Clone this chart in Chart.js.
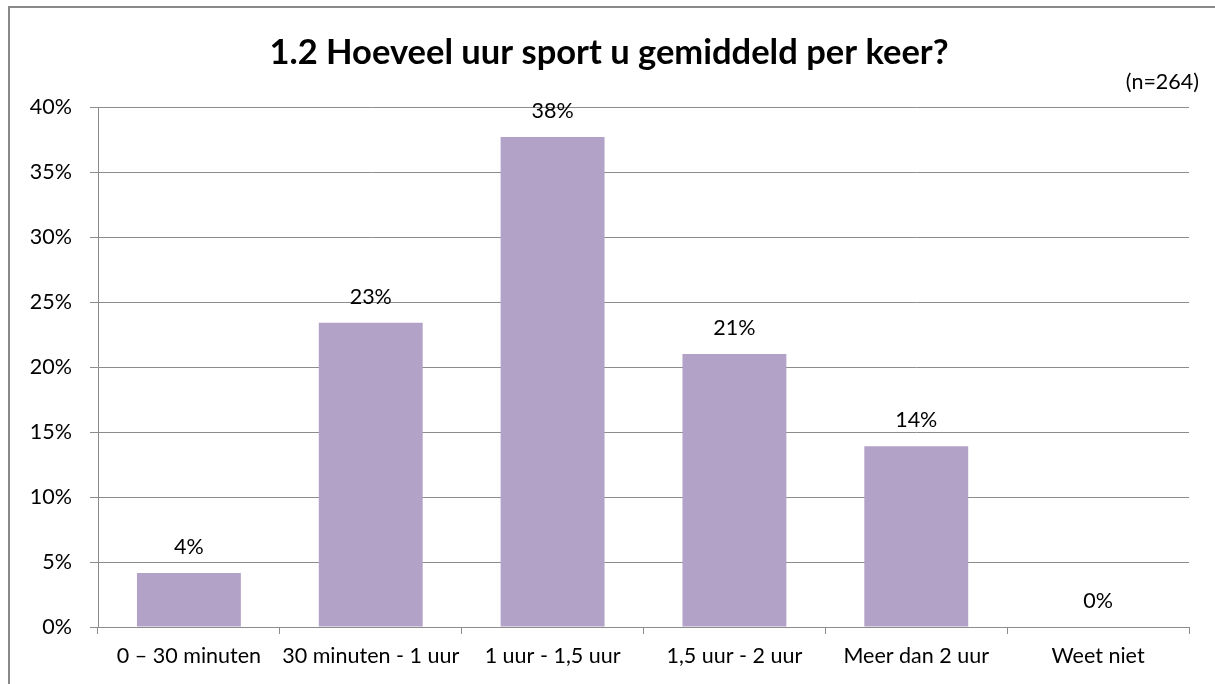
<!DOCTYPE html>
<html>
<head>
<meta charset="utf-8">
<script src="https://cdn.jsdelivr.net/npm/chart.js@4/dist/chart.umd.min.js"></script>
<style>
    html, body { margin: 0; padding: 0; background: #fff; }
    #wrap { position: relative; width: 1215px; height: 684px; overflow: hidden; }
    #frame { position: absolute; left: 8px; top: 6px; width: 1300px; height: 800px; border: 2px solid #898989; box-sizing: border-box; }
    canvas { position: absolute; left: 0; top: 0; }
</style>
</head>
<body>
<div id="wrap">
    <div id="frame"></div>
    <canvas id="chart" width="1215" height="684"></canvas>
</div>
<script>
// chart data
const categories = ['0 \u2013 30 minuten', '30 minuten - 1 uur', '1 uur - 1,5 uur', '1,5 uur - 2 uur', 'Meer dan 2 uur', 'Weet niet'];
const percentages = [4.15, 23.4, 37.7, 21.0, 13.9, 0];
const yTicks = [0, 5, 10, 15, 20, 25, 30, 35, 40];
const titleText = '1.2 Hoeveel uur sport u gemiddeld per keer?';
const sampleText = '(n=264)';

const fontFamily = 'Lato, "Open Sans", sans-serif';
const gridColor = '#8c8c8c';

// draws the title, the n-label and the value labels above the bars
const textPlugin = {
    id: 'textPlugin',
    afterDraw: function(chart) {
        const ctx = chart.ctx;
        ctx.save();
        ctx.fillStyle = '#000';
        ctx.font = 'bold 34.5px ' + fontFamily;
        ctx.textAlign = 'center';
        ctx.textBaseline = 'alphabetic';
        ctx.fillText(titleText, 609, 64);

        ctx.font = '21.5px ' + fontFamily;
        ctx.textAlign = 'right';
        ctx.fillText(sampleText, 1199, 89);

        const meta = chart.getDatasetMeta(0);
        ctx.textAlign = 'center';
        ctx.textBaseline = 'middle';
        meta.data.forEach(function(bar, i) {
            ctx.fillText(Math.round(percentages[i]) + '%', bar.x, bar.y - 26);
        });
        ctx.restore();
    }
};

const ctx = document.getElementById('chart').getContext('2d');
new Chart(ctx, {
    type: 'bar',
    data: {
        labels: categories,
        datasets: [{
            data: percentages,
            backgroundColor: '#b3a2c7',
            borderWidth: 0,
            categoryPercentage: 1 / 1.75,
            barPercentage: 1
        }]
    },
    options: {
        responsive: false,
        animation: false,
        events: [],
        layout: { padding: { top: 107, right: 26, left: 0, bottom: 0 } },
        plugins: {
            legend: { display: false },
            title: { display: false },
            tooltip: { enabled: false }
        },
        scales: {
            x: {
                grid: {
                    offset: true,
                    drawOnChartArea: false,
                    drawTicks: true,
                    tickLength: 7,
                    color: gridColor
                },
                border: { color: gridColor, width: 1 },
                ticks: {
                    color: '#000',
                    font: { family: fontFamily, size: 21.5 },
                    padding: 9,
                    maxRotation: 0,
                    autoSkip: false
                },
                afterFit: function(scale) { scale.height = 57; }
            },
            y: {
                min: 0,
                max: 40,
                afterBuildTicks: function(scale) {
                    scale.ticks = yTicks.map(function(v) { return { value: v }; });
                },
                grid: {
                    color: gridColor,
                    tickLength: 8,
                    drawTicks: true
                },
                border: { color: gridColor, width: 1 },
                ticks: {
                    color: '#000',
                    font: { family: fontFamily, size: 21.5 },
                    padding: 18,
                    callback: function(v) { return v + '%'; }
                },
                afterFit: function(scale) { scale.width = 98; }
            }
        }
    },
    plugins: [textPlugin]
});
</script>
</body>
</html>
